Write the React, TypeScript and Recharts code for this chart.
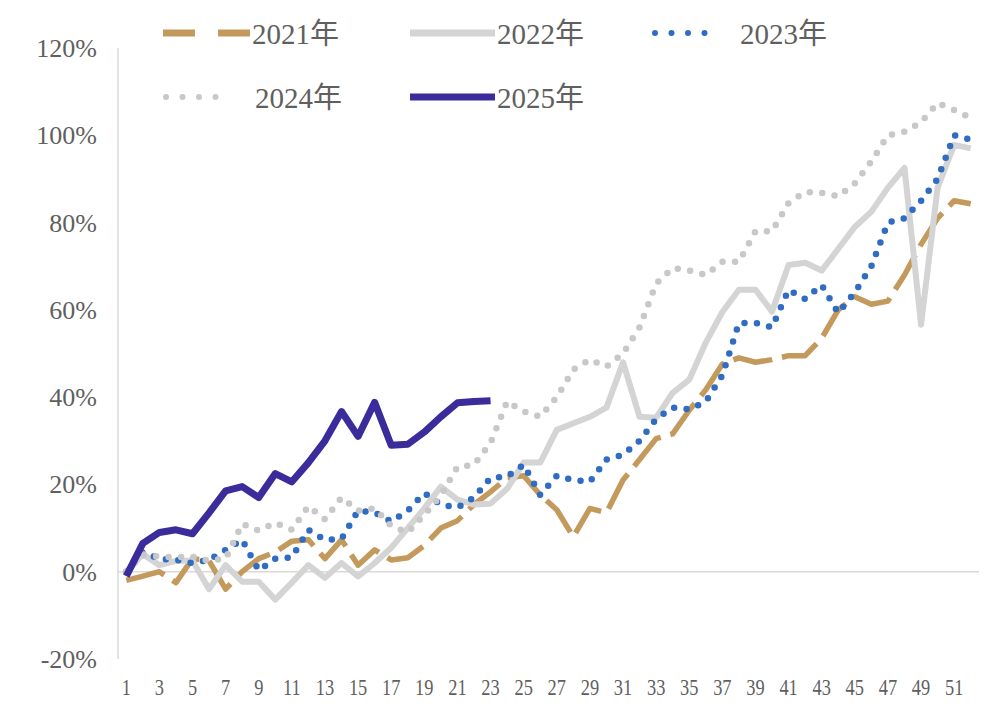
import React from 'react';
import { LineChart, Line, XAxis, YAxis, ReferenceLine, Legend } from 'recharts';

const weeks = [
  '1', '2', '3', '4', '5', '6', '7', '8', '9', '10', '11', '12', '13', '14', '15', '16', '17', '18', '19', '20',
  '21', '22', '23', '24', '25', '26', '27', '28', '29', '30', '31', '32', '33', '34', '35', '36', '37', '38', '39', '40',
  '41', '42', '43', '44', '45', '46', '47', '48', '49', '50', '51', '52',
];

const y2021 = [
  -2, -1, 0, -2.5, 3, 2.5, -4, 0, 3, 4.5, 7, 7.3, 3, 7.3, 1.5, 5, 2.7, 3.2, 6, 10,
  11.7, 15.4, 18.3, 21.5, 22, 17.6, 14.2, 8, 14.5, 13.5, 21, 25.7, 30.5, 31.6, 37, 41.7, 47.6, 49, 48, 48.6,
  49.5, 49.5, 53.5, 60, 63, 61.3, 62, 68, 75, 81, 85, 84.3,
];

const y2022 = [
  0, 4, 1.5, 2.5, 2.5, -4, 1.5, -2.3, -2.3, -6.4, -2.5, 1.5, -1.4, 2, -1.1, 2, 5.5, 10, 14.5, 19.5,
  16.5, 15.4, 15.6, 19, 25, 25, 32.5, 34, 35.5, 37.6, 48, 35.5, 35.3, 41, 44, 52.5, 59.5, 64.6, 64.6, 59.6,
  70.3, 70.8, 69, 74, 79, 82.5, 88, 92.5, 56.6, 88, 97.8, 97,
];

const y2023 = [
  0, 4.5, 3, 2.7, 2, 2.7, 5, 7.3, 0.3, 3, 3.3, 9.6, 7.3, 7.5, 14, 13.6, 11.5, 14, 18, 15.4,
  14.7, 17, 21.5, 21.8, 24.5, 17.6, 22, 21, 20.6, 25.7, 26.8, 30, 35, 37.6, 37.2, 39, 45, 57, 57, 56,
  64.6, 62.5, 65.7, 59.3, 64, 70, 80, 81, 85, 90, 100, 99,
];

const y2024 = [
  0, 4, 3.4, 3.4, 3.4, 2.5, 3, 11, 9.4, 11.2, 9.6, 15, 12, 17, 14, 14.5, 10.5, 9, 13, 17.5,
  24, 24.5, 29.5, 39, 36.7, 35.5, 40, 46.3, 48.6, 47, 50, 56, 66, 69.6, 69, 68, 71, 71, 78, 78,
  84.5, 87, 86.8, 86, 89, 94, 100, 100.8, 103, 107.4, 105.8, 104,
];

const y2025 = [
  -1, 6.5, 9, 9.6, 8.7, 13.5, 18.5, 19.5, 17, 22.5, 20.6, 25, 30, 36.7, 31, 38.8, 29, 29.2, 32, 35.5,
  38.7, 39, 39.2,
];

const yTicks = [-20, 0, 20, 40, 60, 80, 100, 120];

const seriesNames = ['2021年', '2022年', '2023年', '2024年', '2025年'];

const data = weeks.map((w, i) => ({
  week: w,
  s2021: y2021[i] ?? null,
  s2022: y2022[i] ?? null,
  s2023: y2023[i] ?? null,
  s2024: y2024[i] ?? null,
  s2025: y2025[i] ?? null,
}));

const GOLD = '#C39A5C';
const GREY = '#D4D4D4';
const BLUE = '#2F6CC2';
const GREY_DOT = '#C8C8C8';
const PURPLE = '#3A2C9A';
const TEXT = '#5f5f5f';
const FONT = "'Liberation Serif', 'Noto Sans CJK SC', serif";

const XTick = (props: any) => {
  const { x, y, payload } = props;
  return (
    <g transform={`translate(${x},${y}) scale(0.8,1)`}>
      <text x={0} y={0} dy={28} textAnchor="middle" fontFamily={FONT} fontSize={23} fill={TEXT}>
        {payload.value}
      </text>
    </g>
  );
};

const YTick = (props: any) => {
  const { x, y, payload } = props;
  return (
    <text x={x} y={y} dx={-13} dy={9} textAnchor="end" fontFamily={FONT} fontSize={26} fill={TEXT}>
      {`${payload.value}%`}
    </text>
  );
};

const LegendContent = () => {
  const textProps = { fontFamily: FONT, fontSize: 29, fill: TEXT, dominantBaseline: 'central' as const };
  return (
    <svg width={996} height={130} style={{ display: 'block' }}>
      {/* row 1 */}
      <line x1={163} y1={33} x2={250} y2={33} stroke={GOLD} strokeWidth={7} strokeDasharray="32 23" />
      <text x={252} y={34} {...textProps}>{seriesNames[0]}</text>
      <line x1={410} y1={33} x2={495} y2={33} stroke={GREY} strokeWidth={7} />
      <text x={497} y={34} {...textProps}>{seriesNames[1]}</text>
      <line x1={655} y1={33} x2={720} y2={33} stroke={BLUE} strokeWidth={6} strokeLinecap="round" strokeDasharray="0 16.5" />
      <text x={740} y={34} {...textProps}>{seriesNames[2]}</text>
      {/* row 2 */}
      <line x1={166} y1={97} x2={232} y2={97} stroke={GREY_DOT} strokeWidth={6} strokeLinecap="round" strokeDasharray="0 16.5" />
      <text x={255} y={98} {...textProps}>{seriesNames[3]}</text>
      <line x1={410} y1={97} x2={495} y2={97} stroke={PURPLE} strokeWidth={7} />
      <text x={497} y={98} {...textProps}>{seriesNames[4]}</text>
    </svg>
  );
};

export default function App() {
  return (
    <div style={{ position: 'absolute', left: 0, top: 0, width: 996, height: 711, background: '#fff' }}>
      <LineChart
        width={996}
        height={711}
        data={data}
        margin={{ top: 48, right: 17, bottom: 0, left: 0 }}
      >
        <XAxis
          dataKey="week"
          type="category"
          scale="band"
          interval={1}
          axisLine={false}
          tickLine={false}
          height={52}
          tick={<XTick />}
        />
        <YAxis
          type="number"
          domain={[-20, 120]}
          ticks={yTicks}
          width={118}
          axisLine={{ stroke: '#d9d9d9', strokeWidth: 1.5 }}
          tickLine={false}
          tick={<YTick />}
          allowDataOverflow
        />
        <ReferenceLine y={0} stroke="#d9d9d9" strokeWidth={1.5} />
        <Legend
          layout="horizontal"
          verticalAlign="middle"
          align="center"
          wrapperStyle={{ position: 'absolute', top: 0, left: 0, width: 996, height: 130 }}
          content={<LegendContent />}
        />
        <Line
          dataKey="s2021"
          name={seriesNames[0]}
          type="linear"
          stroke={GOLD}
          strokeWidth={5.5}
          strokeDasharray="40 10"
          dot={false}
          activeDot={false}
          isAnimationActive={false}
          strokeLinejoin="round"
        />
        <Line
          dataKey="s2022"
          name={seriesNames[1]}
          type="linear"
          stroke={GREY}
          strokeWidth={6}
          dot={false}
          activeDot={false}
          isAnimationActive={false}
          strokeLinejoin="round"
        />
        <Line
          dataKey="s2023"
          name={seriesNames[2]}
          type="linear"
          stroke={BLUE}
          strokeWidth={6.5}
          strokeLinecap="round"
          strokeDasharray="0 12.5"
          dot={false}
          activeDot={false}
          isAnimationActive={false}
        />
        <Line
          dataKey="s2024"
          name={seriesNames[3]}
          type="linear"
          stroke={GREY_DOT}
          strokeWidth={6.5}
          strokeLinecap="round"
          strokeDasharray="0 12.5"
          dot={false}
          activeDot={false}
          isAnimationActive={false}
        />
        <Line
          dataKey="s2025"
          name={seriesNames[4]}
          type="linear"
          stroke={PURPLE}
          strokeWidth={7}
          dot={false}
          activeDot={false}
          isAnimationActive={false}
          strokeLinejoin="round"
          connectNulls={false}
        />
      </LineChart>
    </div>
  );
}
